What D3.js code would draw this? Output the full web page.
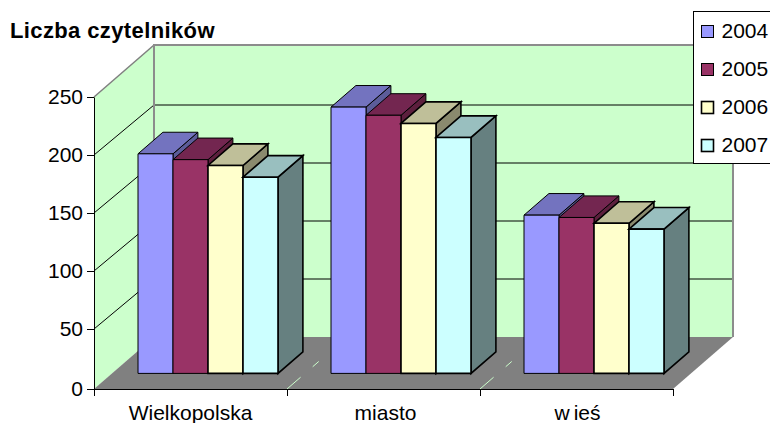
<!DOCTYPE html>
<html><head><meta charset="utf-8">
<script src="https://cdn.jsdelivr.net/npm/d3@7"></script>
<style>html,body{margin:0;padding:0;background:#fff;overflow:hidden}svg{display:block}text{font-family:"Liberation Sans",Arial,sans-serif;fill:#000}</style>
</head><body><div id="c"></div>
<script>
const categories = ["Wielkopolska", "miasto", "wieś"];
const seriesNames = ["2004", "2005", "2006", "2007"];
const v2004 = [188, 228, 135.5];
const v2005 = [183, 221, 133.5];
const v2006 = [178, 214, 128.5];
const v2007 = [168, 202, 123.5];
const seriesValues = [v2004, v2005, v2006, v2007];
const yTicks = [0, 50, 100, 150, 200, 250];
const frontColors = ["#9999FF", "#993366", "#FFFFCC", "#CCFFFF"];
const topColors = ["#7373BF", "#732650", "#BFBF99", "#99BFBF"];
const sideColors = ["#5C5C99", "#5C1F3D", "#8A8A6E", "#668080"];
const barStroke = [1, 1, 1.6, 1.6];

const W = 770, H = 423, L = 94, R = 673, B = 389, T = 97, DX = 60, DY = 52;
const ZF = 0.30, ZB = 0.715;
const svg = d3.select("#c").append("svg").attr("width", W).attr("height", H);
const y = d3.scaleLinear().domain([0, 250]).range([B, T]);
// the wall gridlines of the original sit on slightly uneven pixel steps
const yFront = d3.scaleLinear().domain([0, 50, 250]).range([B, 329, T]);
const yBack = d3.scaleLinear().domain([0, 200, 250]).range([B - DY, 105, T - DY]);
const x = d3.scaleBand().domain(categories).range([L, R]);
const xs = d3.scaleBand().domain(seriesNames).range([26, 166]);
const pt = (px, val, z) => [px + z * DX, y(val) - z * DY];
const poly = pts => pts.map(p => p.join(",")).join(" ");

// walls and floor
svg.append("polygon").attr("fill", "#CCFFCC").attr("points", poly([pt(L,0,0), pt(L,250,0), pt(L,250,1), pt(L,0,1)]));
svg.append("polygon").attr("fill", "#CCFFCC").attr("points", poly([pt(L,0,1), pt(L,250,1), pt(R,250,1), pt(R,0,1)]));
svg.append("polygon").attr("fill", "#808080").attr("points", poly([pt(L,0,0), pt(L,0,1), pt(R,0,1), pt(R,0,0)]));

// gridlines
const grid = yTicks.filter(t => t > 0 && t < 250);
svg.append("g").selectAll("path").data(grid).join("path").attr("fill", "none").attr("stroke", "#000").attr("stroke-width", 1)
  .attr("d", t => d3.line()([[L, yFront(t)], [L + DX, yBack(t)], [R + DX, yBack(t)]]));
// wall edges
svg.append("path").attr("fill", "none").attr("stroke", "#808080").attr("stroke-width", 1.5)
  .attr("d", d3.line()([pt(L,250,0), pt(L,250,1)]));
svg.append("path").attr("fill", "none").attr("stroke", "#8c8c8c").attr("stroke-width", 2)
  .attr("d", d3.line()([pt(L,0,1), pt(L,250,1), pt(R,250,1), pt(R,0,1)]));

// dashed floor dividers
svg.append("g").selectAll("path").data(categories.slice(1)).join("path")
  .attr("fill", "none").attr("stroke", "#CCFFCC").attr("stroke-width", 1)
  .attr("stroke-dasharray", "18 16 8 18 4 100")
  .attr("d", c => d3.line()([pt(x(c),0,0), pt(x(c),0,1)]));

// bars
categories.forEach((c, ci) => {
  seriesNames.forEach((s, si) => {
    const v = seriesValues[si][ci];
    const a = x(c) + xs(s), b = a + xs.bandwidth();
    const g = svg.append("g").attr("stroke", "#000").attr("stroke-width", barStroke[si]).attr("stroke-linejoin", "miter");
    g.append("polygon").attr("fill", sideColors[si]).attr("points", poly([pt(b,0,ZF), pt(b,v,ZF), pt(b,v,ZB), pt(b,0,ZB)]));
    g.append("polygon").attr("fill", topColors[si]).attr("points", poly([pt(a,v,ZF), pt(a,v,ZB), pt(b,v,ZB), pt(b,v,ZF)]));
    g.append("polygon").attr("fill", frontColors[si]).attr("points", poly([pt(a,0,ZF), pt(a,v,ZF), pt(b,v,ZF), pt(b,0,ZF)]));
  });
});

// axes
const yAxis = svg.append("g").attr("transform", `translate(${L},0)`)
  .call(d3.axisLeft(yFront).tickValues(yTicks).tickSize(7).tickPadding(4).tickSizeOuter(0));
yAxis.selectAll("text").attr("font-size", 21).style("font-family", '"Liberation Sans"').attr("fill", "#000");
yAxis.selectAll("line,path").attr("stroke", "#000");

const boundary = d3.scalePoint().domain([0, 1, 2, 3]).range([L, R]);
const xTicks = svg.append("g").attr("transform", `translate(0,${B})`)
  .call(d3.axisBottom(boundary).tickSize(7).tickSizeOuter(0).tickFormat(""));
xTicks.selectAll("line,path").attr("stroke", "#000");

const xLabels = svg.append("g").attr("transform", `translate(0,${B})`)
  .call(d3.axisBottom(x).tickSize(0).tickPadding(16));
xLabels.select(".domain").remove();
xLabels.selectAll("text").attr("font-size", 21).style("font-family", '"Liberation Sans"').attr("fill", "#000");
// small label offsets and the wide gap after the "w" seen in the original
const labelShift = [0, 2, 1];
xLabels.selectAll("text").each(function (d, i) {
  const t = d3.select(this).attr("dx", labelShift[i]);
  if (d === "wieś") {
    t.text(null);
    t.append("tspan").text("w");
    t.append("tspan").attr("dx", 4).text("ieś");
  }
});

// title
svg.append("text").attr("x", 10).attr("y", 37.5).attr("font-size", 22).attr("font-weight", "bold")
  .attr("letter-spacing", 0.38).text("Liczba czytelników");

// legend
const lx = 693.5, ly = 11.5;
svg.append("rect").attr("x", lx).attr("y", ly).attr("width", 90).attr("height", 152).attr("fill", "#fff").attr("stroke", "#000");
const leg = svg.append("g").selectAll("g").data(seriesNames).join("g")
  .attr("transform", (d, i) => `translate(${lx}, ${ly + 20 + i * 38})`);
leg.append("rect").attr("x", 8).attr("y", -6).attr("width", 12).attr("height", 12)
  .attr("fill", (d, i) => frontColors[i]).attr("stroke", "#000").attr("stroke-width", (d, i) => barStroke[i]);
leg.append("text").attr("x", 28).attr("y", 6).attr("font-size", 21).text(d => d);
</script></body></html>
